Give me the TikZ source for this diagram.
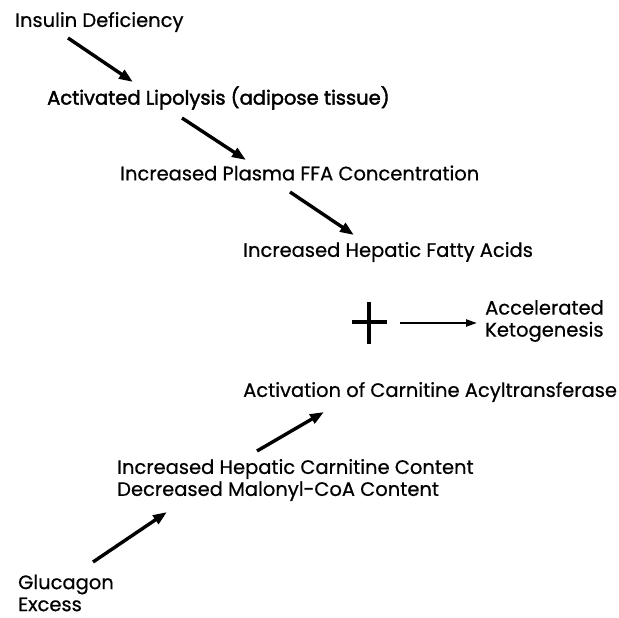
\documentclass[tikz,border=0pt]{standalone}
\usepackage{fontspec}
\setmainfont[FakeBold=0.6]{Poppins}
\newfontfamily\boldish[FakeBold=2]{Poppins}
\usetikzlibrary{arrows.meta}
\begin{document}
\begin{tikzpicture}[x=1pt,y=-1pt,
  lbl/.style={anchor=west,inner sep=0pt,font=\fontsize{19.5}{22}\selectfont,align=left},
  arr/.style={line width=3.4pt,-{Triangle[length=14pt,width=10pt]}},
  thinarr/.style={line width=2.2pt,-{Triangle[length=11pt,width=7pt]}}]
\useasboundingbox (0,0) rectangle (619,618);
\node[lbl] (ins) at (15,22) {Insulin Deficiency};
\node[lbl,font=\fontsize{19.5}{22}\selectfont\boldish] (lip) at (47,98) {Activated Lipolysis (adipose tissue)};
\node[lbl] (ffa) at (120,173) {Increased Plasma FFA Concentration};
\node[lbl] (hfa) at (243,252) {Increased Hepatic Fatty Acids};
\node[lbl] (acc) at (485,321) {Accelerated\\Ketogenesis};
\node[lbl] (act) at (243,392) {Activation of Carnitine Acyltransferase};
\node[lbl] (car) at (117,480) {Increased Hepatic Carnitine Content\\Decreased Malonyl-CoA Content};
\node[lbl] (glu) at (18,593) {Glucagon\\Excess};
% plus sign
\coordinate (plus) at (369,322);
\draw[line width=3.4pt] (352,322) -- (387,322);
\draw[line width=3.4pt] (369,302) -- (369,344);
% arrows
\coordinate (a1s) at (68,38);  \coordinate (a1e) at (133,82);
\coordinate (a2s) at (182,118); \coordinate (a2e) at (246,160);
\coordinate (a3s) at (290,192); \coordinate (a3e) at (354,235);
\coordinate (a4s) at (400,323); \coordinate (a4e) at (477,323);
\coordinate (a5s) at (257,451); \coordinate (a5e) at (324,412);
\coordinate (a6s) at (93,562); \coordinate (a6e) at (167,512);
\draw[arr] (a1s) -- (a1e);
\draw[arr] (a2s) -- (a2e);
\draw[arr] (a3s) -- (a3e);
\draw[thinarr] (a4s) -- (a4e);
\draw[arr] (a5s) -- (a5e);
\draw[arr] (a6s) -- (a6e);
\end{tikzpicture}
\end{document}
